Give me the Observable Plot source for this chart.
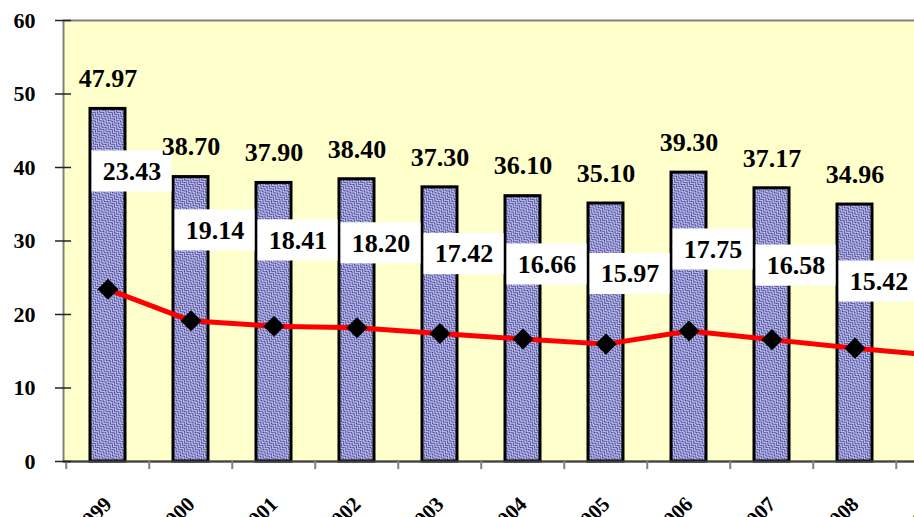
<!DOCTYPE html>
<html><head><meta charset="utf-8">
<script src="https://cdn.jsdelivr.net/npm/d3@7"></script>
<script src="https://cdn.jsdelivr.net/npm/@observablehq/plot@0.6"></script>
<style>
html,body{margin:0;padding:0;background:#fff;overflow:hidden;}
#chart{width:914px;height:517px;overflow:hidden;}
</style></head><body><div id="chart"></div>
<script>
const years = ["1999","2000","2001","2002","2003","2004","2005","2006","2007","2008","2009"];
const barValues = [47.97, 38.70, 37.90, 38.40, 37.30, 36.10, 35.10, 39.30, 37.17, 34.96];
const lineValues = [23.43, 19.14, 18.41, 18.20, 17.42, 16.66, 15.97, 17.75, 16.58, 15.42, 14.40];
const yTicks = [0, 10, 20, 30, 40, 50, 60];

const bars = barValues.map((v, i) => ({year: years[i], v}));
const pts = lineValues.map((v, i) => ({year: years[i], v}));

const W = 914, H = 517;
const x0 = 63, x1 = 981.5;
const step = (x1 - x0) / years.length;
const font = "Liberation Serif, Times New Roman, serif";
const labY = d => 1.87 * d.v - 4.35;

const chart = Plot.plot({
  width: W, height: H,
  marginLeft: x0, marginRight: W - x1, marginTop: 20, marginBottom: H - 461,
  style: {fontFamily: font, background: "#fff", overflow: "hidden"},
  x: {type: "band", domain: years, range: [x0, x1], paddingInner: 0.58, paddingOuter: 0.29, axis: null},
  y: {domain: [0, 60], range: [461, 20], axis: null},
  marks: [
    Plot.frame({fill: "#ffffcc", stroke: "#808080", strokeWidth: 2}),
    Plot.barY(bars, {x: "year", y: "v", fill: "url(#hatch)", stroke: "#000", strokeWidth: 3}),
    Plot.ruleY([0], {stroke: "#404040", strokeWidth: 2}),
    Plot.ruleX(years, {x: d => d, y1: 0, y2: -1.1, dx: -step / 2, stroke: "#808080", strokeWidth: 2}),
    Plot.axisY(yTicks, {anchor: "left", tickSize: 16, dx: 8, text: null, stroke: "#222", strokeWidth: 1.5, label: null}),
    Plot.axisY(yTicks, {anchor: "left", tickSize: 0, tickPadding: 28, fontSize: 22, fontWeight: "bold", fontFamily: font, label: null, fill: "#000"}),
    Plot.text(years, {x: d => d, y: 0, text: d => d, rotate: -45, textAnchor: "end", lineAnchor: "bottom", dx: 5, dy: 44, fontSize: 21, fontWeight: "bold", fontFamily: font, fill: "#000"}),
    Plot.lineY(pts, {x: "year", y: "v", stroke: "#ff0000", strokeWidth: 5}),
    Plot.dot(pts, {x: "year", y: "v", symbol: "diamond2", r: 9.5, fill: "#000", stroke: "none"}),
    Plot.barY(pts, {x: "year", y1: d => labY(d) - 2.8, y2: d => labY(d) + 2.8, fill: "#fff", insetLeft: -22.5, insetRight: -22.5, dx: 24}),
    Plot.text(pts, {x: "year", y: labY, text: d => d.v.toFixed(2), dx: 24, fontSize: 26, fontWeight: "bold", fontFamily: font, fill: "#000"}),
    Plot.text(bars, {x: "year", y: "v", text: d => d.v.toFixed(2), dy: -30, fontSize: 26, fontWeight: "bold", fontFamily: font, fill: "#000"})
  ]
});

d3.select(chart).insert("defs", ":first-child").html(`
<pattern id="hatch" width="6" height="6" patternUnits="userSpaceOnUse" patternTransform="rotate(45)">
  <rect width="6" height="6" fill="#b8b8f4"/>
  <path d="M0,6 L3,3 L6,6 M0,3 L3,0 L6,3" stroke="#30306a" stroke-width="0.9" fill="none"/>
</pattern>`);

document.getElementById("chart").appendChild(chart);
</script>
</body></html>
